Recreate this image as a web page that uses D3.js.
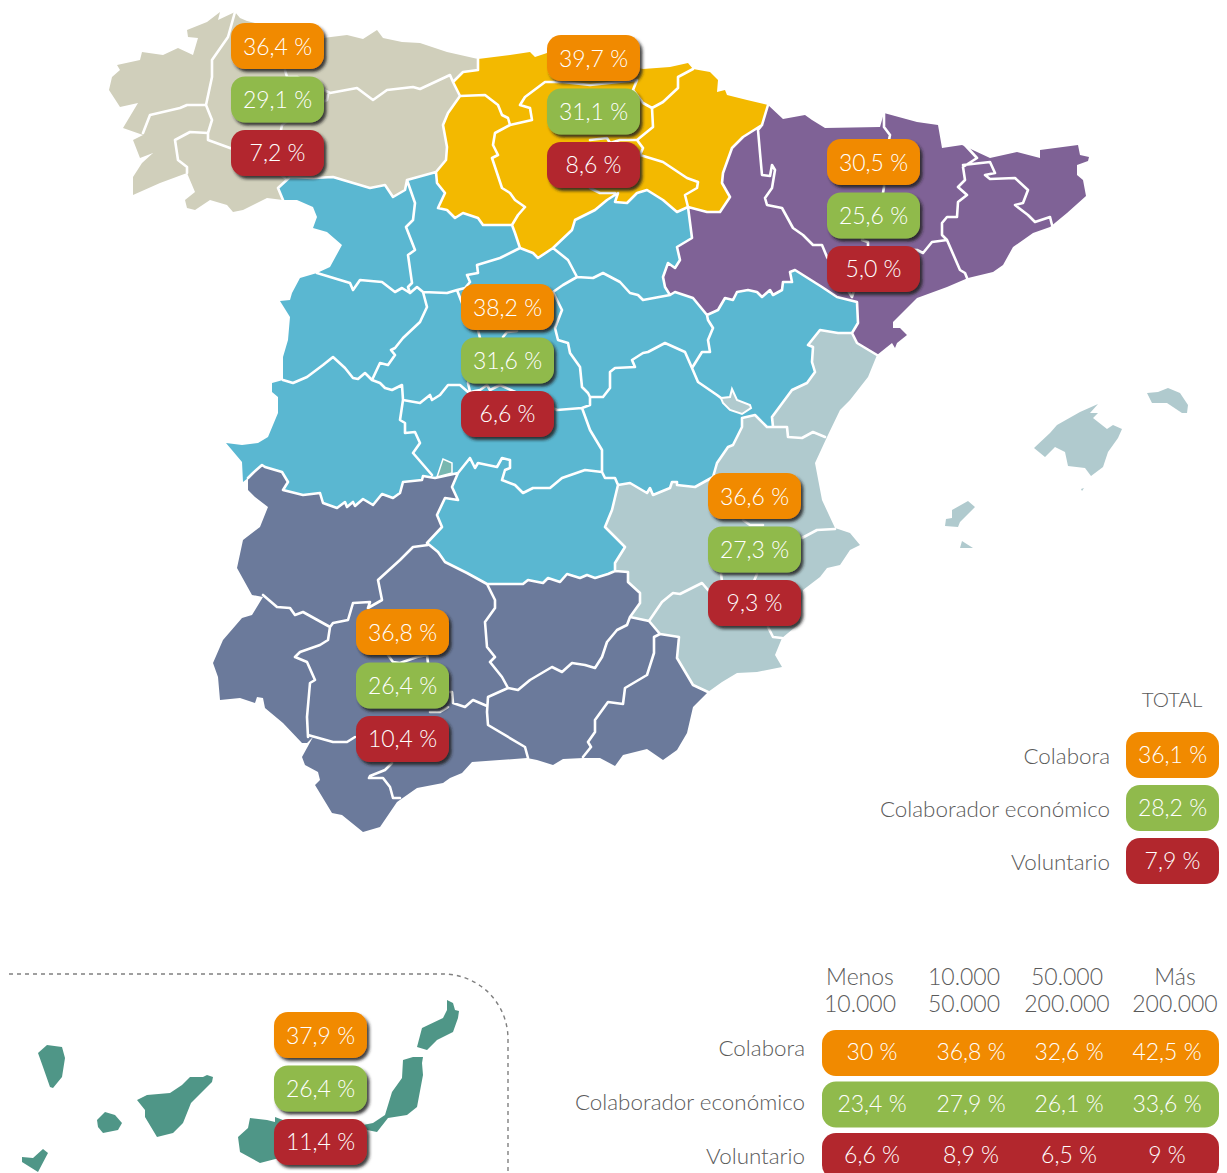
<!DOCTYPE html>
<html lang="es">
<head>
<meta charset="utf-8">
<title>Colabora, colaborador económico, voluntario</title>
<script src="https://cdn.jsdelivr.net/npm/d3@7"></script>
<style>
  html, body { margin: 0; background: #fff; }
  svg { display: block; font-family: Lato, "Open Sans", sans-serif; font-weight: 300; }
  .borders { fill: none; stroke: #fff; stroke-width: 2.6; stroke-linejoin: round; stroke-linecap: round; }
  .value { fill: #fff; font-size: 23px; text-anchor: middle; }
  .label { fill: #5a5a5a; font-size: 22.4px; text-anchor: end; }
  .head { fill: #5a5a5a; font-size: 23px; text-anchor: middle; }
  .total-head { font-size: 20.5px; }
</style>
</head>
<body>
<svg id="chart" width="1227" height="1173"></svg>
<script>
// ── Data ──────────────────────────────────────────────────────────────────────
const seriesNames = ["Colabora", "Colaborador económico", "Voluntario"];
const regionNames = ["Noroeste", "Norte", "Noreste", "Centro", "Levante", "Sur", "Canarias"];
const colaboraByRegion  = [36.4, 39.7, 30.5, 38.2, 36.6, 36.8, 37.9];
const economicoByRegion = [29.1, 31.1, 25.6, 31.6, 27.3, 26.4, 26.4];
const voluntarioByRegion = [7.2, 8.6, 5.0, 6.6, 9.3, 10.4, 11.4];
const totalValues = [36.1, 28.2, 7.9];

const sizeHead1 = ["Menos", "10.000", "50.000", "Más"];
const sizeHead2 = ["10.000", "50.000", "200.000", "200.000"];
const colaboraBySize   = [30, 36.8, 32.6, 42.5];
const economicoBySize  = [23.4, 27.9, 26.1, 33.6];
const voluntarioBySize = [6.6, 8.9, 6.5, 9];

// ── Map outlines, in map units ────────────────────────────────────────────────
const coastNW = [[283,200],[267,198],[243,210],[233,212],[227,205],[210,200],[195,210],[187,208],[185,200],[195,192],[187,173],[160,183],[133,195],[133,177],[142,163],[153,153],[140,158],[133,140],[143,135],[123,128],[138,103],[120,107],[109,90],[112,77],[120,70],[117,65],[140,60],[142,52],[163,55],[178,48],[193,55],[198,38],[188,37],[187,30],[207,22],[220,12],[218,20],[235,12],[240,18],[247,21],[300,34],[323,38],[347,35],[363,39],[377,30],[383,38],[402,42],[420,43],[447,52],[478,59]];
const nwNorth = [[478,59],[478,70],[463,72],[453,82],[460,96],[448,113],[443,125],[447,147],[446,160],[436,172]];
const nwCentre = [[436,172],[407,180],[405,190],[393,197],[385,185],[370,188],[333,177],[313,178],[290,177],[278,188],[283,200]];
const coastN = [[478,59],[510,55],[530,52],[535,57],[547,53],[600,60],[643,69],[670,67],[688,63],[693,69],[710,72],[718,80],[717,92],[725,90],[727,95],[747,100],[768,105]];
const northEast = [[768,105],[762,125],[743,137],[732,148],[723,173],[722,183],[730,197],[720,212],[707,212],[688,207]];
const northCentre = [[688,207],[677,212],[663,200],[647,190],[637,193],[627,203],[615,202],[618,193],[607,200],[595,210],[575,220],[572,230],[553,248],[538,258],[533,253],[520,248],[515,233],[512,225],[483,225],[478,218],[463,213],[455,218],[447,210],[438,208],[445,193],[437,183],[436,172]];
const coastNE = [[768,105],[783,119],[805,115],[812,120],[825,128],[880,127],[884,113],[917,122],[938,125],[942,148],[962,145],[990,158],[1017,152],[1040,158],[1040,150],[1078,145],[1080,155],[1089,157],[1088,161],[1077,165],[1077,175],[1083,180],[1086,196],[1067,213],[1050,227],[1033,233],[1013,247],[1003,265],[993,272],[968,278],[947,287],[917,298],[893,322],[893,328],[900,328],[907,335],[897,343],[895,348],[892,343],[877,355]];
const eastLevante = [[877,355],[857,343],[852,333]];
const eastCentre = [[852,333],[858,323],[857,302],[837,297],[822,287],[795,270],[790,272],[792,282],[783,282],[782,290],[773,295],[770,290],[762,297],[757,292],[748,290],[737,292],[733,300],[725,298],[718,310],[707,315],[693,298],[675,292],[670,295],[665,287],[663,277],[668,263],[675,268],[680,260],[677,247],[692,238],[688,207]];
const coastW = [[283,200],[297,200],[313,207],[317,217],[313,228],[327,232],[342,245],[330,267],[317,273],[300,278],[292,293],[290,300],[280,301],[290,317],[288,340],[283,357],[283,380],[272,383],[272,392],[278,397],[278,413],[268,437],[258,443],[242,445],[226,443],[242,462],[243,482],[248,478]];
const centreSouth = [[248,478],[253,473],[262,465],[265,467],[282,472],[288,482],[283,490],[303,495],[320,493],[323,503],[337,508],[345,502],[347,507],[353,502],[355,506],[363,499],[373,505],[382,494],[393,498],[400,493],[403,482],[422,480],[423,476],[435,478],[458,473],[452,487],[458,500],[445,498],[437,515],[442,527],[427,543],[438,552],[445,562],[467,573],[487,584],[523,584],[528,580],[543,583],[548,578],[560,582],[567,574],[580,578],[587,575],[595,578],[608,574],[615,571]];
const centreLevante = [[615,571],[615,563],[625,547],[615,537],[605,527],[612,510],[618,485],[630,483],[647,493],[650,488],[653,495],[670,488],[672,482],[677,482],[677,485],[695,487],[713,477],[717,463],[728,447],[733,445],[742,427],[742,418],[755,415],[767,427],[773,427],[772,417],[792,390],[807,383],[815,372],[812,362],[813,347],[808,345],[820,330],[838,333],[852,333]];
const coastE = [[877,355],[868,377],[850,400],[840,410],[827,437],[815,463],[822,500],[835,528],[850,533],[860,545],[850,550],[840,565],[827,568],[820,577],[803,590],[800,623],[782,638],[775,655],[782,667],[757,672],[737,673],[722,682],[708,692]];
const levanteSouth = [[708,692],[693,685],[677,658],[679,637],[660,634],[649,621],[630,617],[640,603],[640,593],[628,582],[628,572],[615,571]];
const coastS = [[708,692],[693,707],[687,733],[677,750],[663,760],[647,749],[623,755],[615,766],[600,758],[583,758],[563,759],[553,765],[537,760],[527,758],[472,762],[462,773],[450,778],[443,783],[417,788],[397,802],[380,827],[363,832],[342,815],[332,813],[315,785],[320,780],[318,772],[305,765],[302,757],[313,737],[307,743],[302,743],[283,723],[265,708],[263,698],[257,697],[255,703],[240,698],[220,700],[218,677],[213,663],[223,640],[242,618],[252,615],[263,597],[252,595],[237,568],[243,540],[260,527],[268,507],[255,497],[248,490],[248,478]];

const mainland = [
  { color: "#d0cfbb", rings: [[...coastNW, ...nwNorth, ...nwCentre]] },
  { color: "#f3b900", rings: [[...coastN, ...northEast, ...northCentre, ...nwNorth.slice().reverse()]] },
  { color: "#7f6296", rings: [[...coastNE, ...eastLevante, ...eastCentre, ...northEast.slice().reverse()]] },
  { color: "#5ab7d1", rings: [[...nwCentre, ...coastW, ...centreSouth, ...centreLevante, ...eastCentre, ...northCentre]] },
  { color: "#b0cace", rings: [[...centreLevante, ...eastLevante.slice().reverse(), ...coastE, ...levanteSouth]] },
  { color: "#6b7a9b", rings: [[...centreSouth, ...levanteSouth.slice().reverse(), ...coastS]] }
];

// Limits between the coloured areas
const regionLines = [nwNorth, nwCentre, northEast, northCentre, eastLevante, eastCentre, centreSouth, centreLevante, levanteSouth];

// Provincial limits drawn over the fills
const provinceLines = [
  // Noroeste
  [[235,12],[228,37],[212,60],[212,77],[206,105],[212,120],[208,133],[208,140],[230,148],[262,160],[285,178]],
  [[206,105],[187,105],[180,108],[150,115],[143,133]],
  [[208,133],[190,132],[175,140],[178,160],[187,167],[187,173]],
  [[285,70],[287,77],[297,77],[330,93],[357,88],[373,100],[387,90],[413,87],[420,89],[450,75],[453,82]],
  [[328,95],[327,100],[300,112],[282,125],[280,135],[262,160]],
  // Norte
  [[460,96],[485,95],[498,105],[502,115],[508,118],[510,125],[495,133],[493,145],[498,155],[492,158],[502,188],[510,193],[515,200],[525,207],[518,215],[512,225]],
  [[510,125],[532,120],[530,108],[520,105],[525,97],[545,82],[563,82],[590,85],[637,80],[633,90],[643,103]],
  [[643,103],[652,108],[653,127],[637,140],[643,148],[640,155],[663,162],[687,178],[698,182],[697,188],[685,195],[688,207]],
  [[693,69],[678,77],[678,88],[663,102],[652,108]],
  [[590,140],[607,138],[610,143],[620,140],[637,140]],
  [[590,188],[600,193],[615,193]],
  // Noreste
  [[762,125],[758,130],[760,153],[762,175],[770,176],[772,165],[775,170],[772,188],[765,198],[767,205],[782,208],[793,228],[803,235],[813,245],[822,245],[827,257],[852,297]],
  [[884,113],[884,127],[890,135],[885,160],[884,187],[883,193],[862,240],[868,242],[868,247],[852,297]],
  [[868,247],[917,250],[923,253],[932,242],[947,240],[960,270],[965,273],[967,278]],
  [[965,145],[977,158],[963,167],[965,180],[958,187],[967,195],[958,202],[957,217],[947,217],[942,223],[942,235],[947,240]],
  [[963,165],[990,162],[995,173],[985,175],[990,179],[1015,178],[1028,190],[1023,203],[1015,205],[1028,215],[1035,222],[1050,217],[1052,225]],
  // Centro
  [[407,180],[415,203],[413,220],[406,227],[415,250],[408,255],[412,283],[408,287],[410,293]],
  [[317,273],[350,283],[353,290],[360,280],[382,282],[395,292],[402,288],[410,293],[417,287],[423,292],[427,307],[420,322],[403,338],[395,348],[391,350],[395,355],[388,365],[380,363],[372,380]],
  [[423,292],[447,293],[457,290],[462,303],[478,330],[480,338],[468,383],[470,392],[480,390],[487,385],[490,390],[500,385],[513,391],[557,410],[582,408]],
  [[457,290],[465,288],[470,282],[467,275],[478,273],[477,265],[500,258],[520,248]],
  [[553,248],[568,260],[577,277],[563,285],[553,292],[562,310],[555,328],[558,340],[568,343],[570,353],[580,367],[582,387],[588,393],[590,397],[590,405],[582,408]],
  [[577,277],[593,278],[603,273],[620,282],[630,293],[638,295],[643,300],[670,295]],
  [[503,337],[507,332],[517,331]],
  [[283,380],[293,383],[307,377],[323,365],[333,357],[345,368],[353,378],[358,379],[365,373],[372,380],[380,383],[385,388],[392,390],[402,385],[403,400],[400,420],[405,423],[405,433],[415,432],[420,443],[413,453],[432,475]],
  [[403,400],[420,403],[430,395],[432,400],[440,395],[448,385],[460,385],[468,392]],
  [[582,408],[590,430],[602,450],[602,472],[605,478],[615,478],[618,485]],
  [[602,472],[585,470],[562,478],[550,488],[533,488],[523,493],[515,485],[502,480],[505,470],[510,468],[510,460],[502,458],[497,467],[478,463],[475,468],[470,458],[458,473]],
  [[590,397],[603,397],[610,388],[610,372],[615,368],[635,367],[632,360],[643,353],[648,352],[665,343],[685,352],[692,368],[698,382],[717,395],[721,398]],
  [[692,368],[702,352],[710,352],[708,340],[713,328],[708,320],[707,315]],
  // Levante
  [[773,427],[787,427],[788,437],[802,438],[813,432],[825,437]],
  [[802,538],[817,530],[835,529]],
  [[743,520],[750,525],[763,525]],
  [[721,574],[722,581]],
  [[757,574],[754,581]],
  [[649,621],[662,602],[673,593],[680,594],[702,583],[708,590]],
  [[768,627],[773,637],[782,638]],
  // Sur
  [[263,595],[277,607],[290,608],[295,615],[303,612],[330,627],[328,640],[320,645],[300,652],[295,657],[307,662],[315,680],[310,683],[307,717],[308,737]],
  [[330,627],[333,623],[348,620],[353,603],[370,602],[368,608],[382,600],[378,580],[400,560],[413,547],[428,545]],
  [[308,735],[333,742],[347,742],[355,737]],
  [[392,763],[385,770],[370,776],[369,778],[383,778],[390,787],[393,798],[400,798]],
  [[487,584],[495,600],[495,608],[485,622],[487,647],[495,657],[490,662],[502,677],[508,688],[518,690],[530,680],[552,667],[562,672],[572,663],[585,665],[595,668],[602,657],[607,642],[617,630],[627,625],[630,617]],
  [[508,688],[488,697],[487,712],[488,725],[525,747],[528,758]],
  [[487,706],[473,700],[465,707],[453,703],[452,692],[448,692]],
  [[388,655],[393,662],[400,663],[417,657],[427,655],[428,663]],
  [[430,712],[440,712],[448,707]],
  [[660,634],[654,637],[654,653],[647,675],[625,688],[623,704],[608,702],[595,720],[595,732],[588,742],[591,747],[583,757]]
];

const ademuz = [[721,398],[730,397],[732,389],[737,400],[750,405],[751,408],[742,414],[730,410],[723,403]];
const trevino = [[437,477],[443,459],[452,463],[452,473]];

const menorca = [[1147,393],[1158,392],[1168,388],[1180,393],[1188,405],[1187,413],[1182,413],[1167,403],[1152,403]];
const mallorca = [[1098,404],[1080,412],[1057,425],[1050,433],[1034,448],[1045,457],[1055,447],[1065,452],[1068,466],[1085,468],[1091,476],[1103,467],[1108,452],[1118,438],[1122,429],[1113,425],[1107,429],[1093,418],[1098,413],[1090,413]];
const cabrera = [[1081,489],[1084,488],[1082,491]];
const ibiza = [[968,501],[975,507],[960,522],[958,527],[945,526],[946,519],[952,518],[952,510]];
const formentera = [[962,541],[973,548],[960,548]];

const lanzarote = [[447,1000],[453,1003],[455,1010],[459,1011],[458,1018],[453,1032],[437,1040],[427,1050],[417,1047],[422,1028],[443,1018],[447,1010]];
const fuerteventura = [[403,1060],[413,1057],[423,1057],[422,1063],[423,1075],[417,1107],[407,1115],[388,1118],[377,1132],[367,1130],[363,1125],[373,1123],[385,1115],[392,1092],[402,1078]];
const granCanaria = [[250,1118],[267,1120],[275,1122],[275,1117],[283,1120],[283,1157],[260,1163],[240,1152],[238,1137],[248,1128]];
const tenerife = [[213,1077],[207,1075],[203,1077],[190,1077],[182,1085],[170,1093],[147,1095],[137,1100],[145,1110],[145,1117],[157,1137],[173,1133],[183,1123],[191,1103],[212,1082]];
const gomera = [[97,1120],[105,1112],[115,1115],[122,1123],[118,1130],[103,1133],[98,1127]];
const laPalma = [[38,1053],[47,1045],[62,1047],[65,1058],[62,1077],[53,1088],[50,1087],[43,1067]];
const hierro = [[22,1157],[33,1158],[43,1149],[48,1153],[38,1172],[22,1162]];

// ── Drawing ───────────────────────────────────────────────────────────────────
const COLOR = { "Colabora": "#f18a00", "Colaborador económico": "#90ba4c", "Voluntario": "#b2272d" };
const BADGE_W = 93, BADGE_H = 46, BADGE_R = 14;

const svg = d3.select("#chart");
const defs = svg.append("defs");
const shadow = defs.append("filter").attr("id", "badge-shadow")
  .attr("x", "-10%").attr("y", "-10%").attr("width", "125%").attr("height", "130%");
shadow.append("feDropShadow")
  .attr("dx", 2.5).attr("dy", 3).attr("stdDeviation", 1.5)
  .attr("flood-color", "#1c1c1c").attr("flood-opacity", 0.85);

const path = d3.geoPath(d3.geoIdentity());
const polygon = rings => ({ type: "Polygon", coordinates: rings.map(r => [...r, r[0]]) });

const mapG = svg.append("g");
mainland.forEach(r => {
  mapG.append("path").datum(polygon(r.rings))
    .attr("fill", r.color).attr("d", path);
});
mapG.append("path").datum({ type: "MultiLineString", coordinates: [...regionLines, ...provinceLines] })
  .attr("class", "borders").attr("d", path);
mapG.append("path").datum(polygon([ademuz]))
  .attr("fill", "#b0cace").attr("stroke", "#fff").attr("stroke-width", 2).attr("d", path);
mapG.append("path").datum(polygon([trevino]))
  .attr("fill", "#78b7b0").attr("stroke", "#fff").attr("stroke-width", 1.5).attr("d", path);

[menorca, mallorca, cabrera, ibiza, formentera].forEach(isle => {
  mapG.append("path").datum(polygon([isle])).attr("fill", "#b0cace").attr("d", path);
});
[lanzarote, fuerteventura, granCanaria, tenerife, gomera, laPalma, hierro].forEach(isle => {
  mapG.append("path").datum(polygon([isle])).attr("fill", "#4f9687").attr("d", path);
});

// Dashed frame round the Canaries
const frame = d3.path();
frame.moveTo(9, 974);
frame.lineTo(443, 974);
frame.arcTo(508, 974, 508, 1039, 65);
frame.lineTo(508, 1173);
svg.append("path").attr("d", frame.toString())
  .attr("fill", "none").attr("stroke", "#808080").attr("stroke-width", 1.4).attr("stroke-dasharray", "4,4");

const fmt1 = v => d3.format(".1f")(v).replace(".", ",") + " %";
const fmtPlain = v => String(v).replace(".", ",") + " %";

const rowStep = d3.scalePoint().domain(seriesNames).range([0, 107]);
const bySeries = [colaboraByRegion, economicoByRegion, voluntarioByRegion];
const badgeLeft = d3.scaleOrdinal().domain(regionNames).range([231, 547, 827, 461, 708, 356, 274]);
const badgeTop  = d3.scaleOrdinal().domain(regionNames).range([23, 35, 139, 284, 473, 609, 1012]);

regionNames.forEach((name, i) => {
  const g = svg.append("g").attr("transform", `translate(${badgeLeft(name)},${badgeTop(name)})`);
  seriesNames.forEach((s, k) => {
    g.append("rect")
      .attr("y", rowStep(s)).attr("width", BADGE_W).attr("height", BADGE_H)
      .attr("rx", BADGE_R).attr("fill", COLOR[s]).attr("filter", "url(#badge-shadow)");
    g.append("text").attr("class", "value")
      .attr("x", BADGE_W / 2).attr("y", rowStep(s) + 32 - k * 0.5)
      .text(fmt1(bySeries[k][i]));
  });
});

// TOTAL
svg.append("text").attr("class", "head total-head").attr("x", 1172).attr("y", 707).text("TOTAL");
const totalY = d3.scalePoint().domain(seriesNames).range([732, 838]);
seriesNames.forEach((s, k) => {
  svg.append("rect").attr("x", 1126).attr("y", totalY(s))
    .attr("width", BADGE_W).attr("height", BADGE_H).attr("rx", BADGE_R).attr("fill", COLOR[s]);
  svg.append("text").attr("class", "value")
    .attr("x", 1126 + BADGE_W / 2).attr("y", totalY(s) + 31).text(fmt1(totalValues[k]));
  svg.append("text").attr("class", "label")
    .attr("x", 1110).attr("y", totalY(s) + 31.5).text(s);
});

// Table by municipality size
const headX = d3.scaleOrdinal().domain(d3.range(4)).range([860, 964, 1067, 1175]);
sizeHead1.forEach((t, i) => {
  svg.append("text").attr("class", "head").attr("x", headX(i)).attr("y", 985).text(t);
  svg.append("text").attr("class", "head").attr("x", headX(i)).attr("y", 1012).text(sizeHead2[i]);
});
const tableY = d3.scalePoint().domain(seriesNames).range([1030, 1133]);
const tableLabelY = d3.scalePoint().domain(seriesNames).range([1056, 1164]);
const cellX = d3.scaleOrdinal().domain(d3.range(4)).range([872, 971, 1069, 1167]);
[colaboraBySize, economicoBySize, voluntarioBySize].forEach((vals, k) => {
  const s = seriesNames[k];
  svg.append("rect").attr("x", 822).attr("y", tableY(s))
    .attr("width", 397).attr("height", BADGE_H).attr("rx", BADGE_R).attr("fill", COLOR[s]);
  svg.append("text").attr("class", "label")
    .attr("x", 805).attr("y", tableLabelY(s)).text(s);
  vals.forEach((v, i) => {
    svg.append("text").attr("class", "value")
      .attr("x", cellX(i)).attr("y", tableY(s) + 30).text(fmtPlain(v));
  });
});
</script>
</body>
</html>
